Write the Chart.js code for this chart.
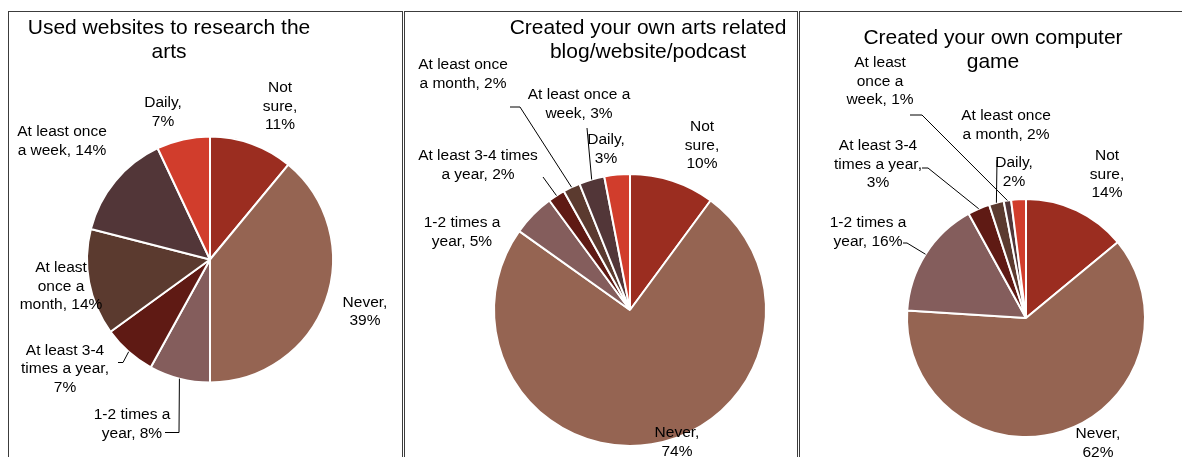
<!DOCTYPE html>
<html>
<head>
<meta charset="utf-8">
<script src="https://cdn.jsdelivr.net/npm/chart.js@4.4.0/dist/chart.umd.min.js"></script>
<style>
  body { margin: 0; background: #fff; width: 1182px; height: 457px; overflow: hidden; position: relative; }
  .panel { position: absolute; top: 11px; height: 460px; border: 1px solid #3c3c3c; border-bottom: none; }
  .panel canvas { position: absolute; left: 0; top: 0; }
</style>
</head>
<body>
<div class="panel" style="left:8px;width:393px"><canvas id="research" width="393" height="445"></canvas></div>
<div class="panel" style="left:404px;width:392px"><canvas id="blog" width="392" height="445"></canvas></div>
<div class="panel" style="left:799px;width:382px"><canvas id="game" width="382" height="445"></canvas></div>
<script>
var categories = ['Not sure', 'Never', '1-2 times a year', 'At least 3-4 times a year',
                  'At least once a month', 'At least once a week', 'Daily'];
var researchValues = [11, 39, 8, 7, 14, 14, 7];
var blogValues = [10, 74, 5, 2, 2, 3, 3];
var gameValues = [14, 62, 16, 3, 2, 1, 2];
var researchTitle = ['Used websites to research the', 'arts'];
var blogTitle = ['Created your own arts related', 'blog/website/podcast'];
var gameTitle = ['Created your own computer', 'game'];

var sliceColors = ['#9b2d20', '#956452', '#845d5c', '#5f1a14', '#5b3a2f', '#523638', '#d13d2c'];
var FONT = '"Liberation Sans", Arial, Helvetica, sans-serif';

// label placement relative to the pie centre: dx/dy = first line centre,
// lines = words per line, leader = polyline points ending on the slice edge
var researchLayout = {
    cx: 201, cy: 247.5, r: 123, titleX: 160, titleY: 16,
    labels: [
        {dx: 70, dy: -171.5, lines: [1, 1, 1]},
        {dx: 155, dy: 43, lines: [1, 1]},
        {dx: -78, dy: 155.5, lines: [3, 2], leader: [[-45, 173], [-31, 173]]},
        {dx: -145, dy: 91, lines: [3, 3, 1], leader: [[-92, 103], [-87, 103]]},
        {dx: -149, dy: 8.5, lines: [2, 2, 2]},
        {dx: -148, dy: -127.5, lines: [3, 3]},
        {dx: -47, dy: -156.5, lines: [1, 1]}
    ]
};
var blogLayout = {
    cx: 225, cy: 298, r: 136, titleX: 243, titleY: 16,
    labels: [
        {dx: 72, dy: -183, lines: [1, 1, 1]},
        {dx: 47, dy: 123, lines: [1, 1]},
        {dx: -168, dy: -87, lines: [3, 2]},
        {dx: -152, dy: -154, lines: [4, 3], leader: [[-87, -133]]},
        {dx: -167, dy: -245, lines: [3, 3], leader: [[-120, -203], [-110, -203]]},
        {dx: -51, dy: -215, lines: [4, 2], leader: [[-43, -182]]},
        {dx: -24, dy: -170, lines: [1, 1]}
    ]
};
var gameLayout = {
    cx: 226, cy: 306, r: 119, titleX: 193, titleY: 26,
    labels: [
        {dx: 81, dy: -162, lines: [1, 1, 1]},
        {dx: 72, dy: 116, lines: [1, 1]},
        {dx: -158, dy: -95, lines: [3, 2], leader: [[-123, -75], [-119, -75]]},
        {dx: -148, dy: -172, lines: [3, 3, 1], leader: [[-104, -150], [-98, -150]]},
        {dx: -20, dy: -202, lines: [3, 3], leader: [[-29, -158]]},
        {dx: -146, dy: -255, lines: [2, 2, 2], leader: [[-116, -203], [-104, -203]]},
        {dx: -12, dy: -155, lines: [1, 1]}
    ]
};

function sliceLabels(title, layout) {
    return {
        id: 'sliceLabels',
        afterDatasetsDraw: function(chart) {
            var ctx = chart.ctx;
            var meta = chart.getDatasetMeta(0);
            var values = chart.data.datasets[0].data;
            ctx.save();
            ctx.fillStyle = '#000';
            ctx.strokeStyle = '#000';
            ctx.lineWidth = 1;
            ctx.textAlign = 'center';
            ctx.textBaseline = 'middle';

            ctx.font = '21px ' + FONT;
            title.forEach(function(line, k) {
                ctx.fillText(line, layout.titleX, layout.titleY + k * 24);
            });

            ctx.font = '15.5px ' + FONT;
            meta.data.forEach(function(arc, i) {
                var p = layout.labels[i];
                var a = arc.getProps(['x', 'y', 'startAngle', 'endAngle', 'outerRadius'], true);
                var words = (chart.data.labels[i] + ', ' + values[i] + '%').split(' ');
                var w = 0;
                p.lines.forEach(function(n, k) {
                    ctx.fillText(words.slice(w, w + n).join(' '), a.x + p.dx, a.y + p.dy + k * 18.5);
                    w += n;
                });
                if (p.leader) {
                    var mid = (a.startAngle + a.endAngle) / 2;
                    ctx.beginPath();
                    p.leader.forEach(function(pt, k) {
                        if (k === 0) ctx.moveTo(a.x + pt[0], a.y + pt[1]);
                        else ctx.lineTo(a.x + pt[0], a.y + pt[1]);
                    });
                    ctx.lineTo(a.x + Math.cos(mid) * a.outerRadius, a.y + Math.sin(mid) * a.outerRadius);
                    ctx.stroke();
                }
            });
            ctx.restore();
        }
    };
}

function drawPie(id, values, title, layout) {
    var canvas = document.getElementById(id);
    var W = canvas.width, H = canvas.height;
    // square chart area centred on the pie
    var s = Math.min(layout.cx, W - layout.cx, layout.cy, H - layout.cy);
    return new Chart(canvas, {
        type: 'pie',
        data: {
            labels: categories,
            datasets: [{
                data: values,
                backgroundColor: sliceColors,
                borderColor: '#fff',
                borderWidth: 2
            }]
        },
        options: {
            responsive: false,
            animation: false,
            radius: layout.r,
            layout: {
                padding: {
                    left: layout.cx - s, right: W - layout.cx - s,
                    top: layout.cy - s, bottom: H - layout.cy - s
                }
            },
            plugins: {
                legend: { display: false },
                title: { display: false },
                tooltip: { enabled: false }
            }
        },
        plugins: [sliceLabels(title, layout)]
    });
}

drawPie('research', researchValues, researchTitle, researchLayout);
drawPie('blog', blogValues, blogTitle, blogLayout);
drawPie('game', gameValues, gameTitle, gameLayout);
</script>
</body>
</html>
